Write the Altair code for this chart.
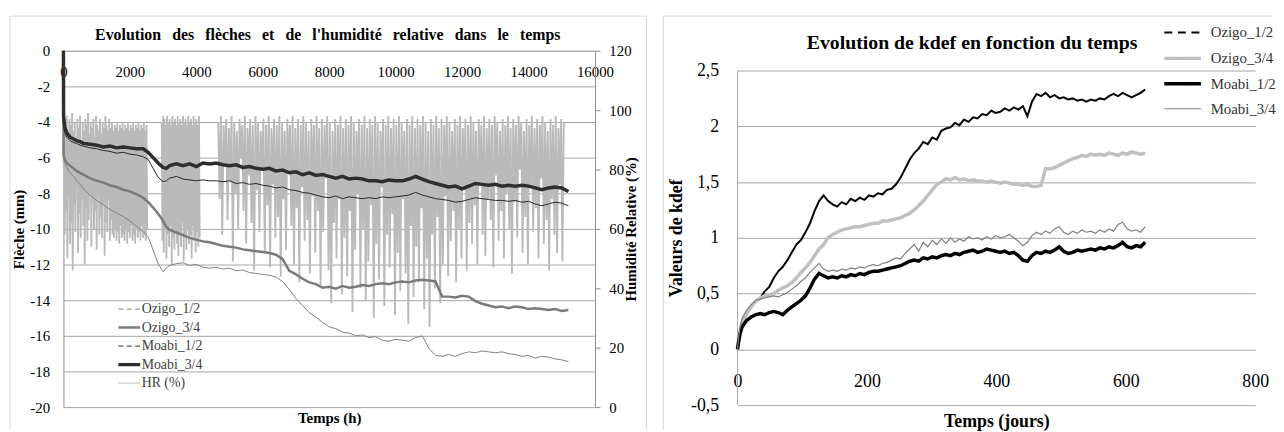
import altair as alt
import pandas as pd

SERIF = "Liberation Serif"
GRID = "#a6a6a6"
FRAME = "#d4d4d4"
GAP = "\u2002\u2009"  # wide word gap used in the left title

# ---------------- Left chart: deflection (mm) and RH (%) vs time (h) ----------------
SERIES_L = ["Ozigo_1/2", "Ozigo_3/4", "Moabi_1/2", "Moabi_3/4", "HR (%)"]
COLORS_L = ["#808080", "#7a7a7a", "#262626", "#2e2e2e", "#bababa"]
WIDTHS_L = [1, 2.5, 1, 3.5, 1]
DASHES_L = [[5, 3.5], [1, 0], [5, 3.5], [1, 0], [1, 0]]
HR_LINE_WIDTH = 1.9

T_L = [0, 5, 40, 100, 200, 300, 400, 500, 600, 800, 1000, 1200, 1400, 1600, 1800, 2000,
       2200, 2400, 2550, 2700, 2850, 3000, 3100,
       3200, 3400, 3600, 3800, 4000, 4200, 4400, 4600, 4800, 5000, 5200, 5400, 5600, 5800,
       6000, 6200, 6400, 6600, 6800, 7000, 7200, 7400, 7600, 7800, 8000, 8200, 8400, 8600,
       8800, 9000, 9200, 9400, 9600, 9800, 10000, 10200, 10400, 10600, 10800, 11000, 11200,
       11400, 11600, 11800, 12000, 12200, 12400, 12600, 12800, 13000, 13200, 13400, 13600,
       13800, 14000, 14200, 14400, 14600, 14800, 15000, 15200]

O12_L = [0, -6.0, -6.3, -6.55, -6.85, -7.05, -7.3, -7.5, -7.75, -8.1, -8.4, -8.65, -8.9, -9.1,
         -9.3, -9.55, -9.85, -10.15, -10.45, -11.2, -11.95, -12.4, -12.2,
         -12.05, -11.95, -11.9, -12.05, -12.0, -12.15, -12.2, -12.15, -12.25, -12.2,
         -12.35, -12.3, -12.45, -12.5, -12.55, -12.6, -12.7, -12.95, -13.4, -13.9,
         -14.3, -14.7, -14.95, -15.25, -15.5, -15.6, -15.8, -15.85, -16.0, -15.95,
         -16.1, -16.05, -16.25, -16.3, -16.2, -16.25, -16.3, -16.1, -16.0, -16.7,
         -17.1, -17.15, -17.05, -17.15, -17.0, -16.9, -16.95, -16.85, -16.9, -16.95,
         -16.9, -17.0, -17.05, -17.15, -17.1, -17.25, -17.15, -17.2, -17.3, -17.35, -17.45]
O34_L = [0, -5.85, -6.1, -6.3, -6.45, -6.6, -6.75, -6.85, -6.95, -7.15, -7.3, -7.4, -7.55, -7.65,
         -7.8, -7.9, -8.05, -8.25, -8.5, -8.8, -9.15, -9.55, -9.9,
         -10.05, -10.2, -10.35, -10.5, -10.6, -10.7, -10.75, -10.85, -10.95, -11.0,
         -11.05, -11.15, -11.2, -11.25, -11.3, -11.35, -11.45, -11.7, -12.35, -12.55,
         -12.8, -13.0, -13.1, -13.3, -13.25, -13.35, -13.2, -13.3, -13.25, -13.15,
         -13.2, -13.1, -13.05, -13.1, -13.0, -12.95, -13.0, -12.9, -12.85, -12.9,
         -12.95, -13.8, -13.8, -13.85, -13.75, -13.8, -14.05, -14.2, -14.3, -14.4,
         -14.35, -14.45, -14.35, -14.4, -14.5, -14.45, -14.5, -14.55, -14.5, -14.6, -14.55]
M12_L = [0, -4.2, -4.6, -4.85, -5.05, -5.15, -5.2, -5.3, -5.35, -5.45, -5.5, -5.6, -5.65, -5.75,
         -5.7, -5.8, -5.85, -5.95, -6.1, -6.6, -7.1, -7.35, -7.3,
         -7.15, -7.05, -7.2, -7.25, -7.3, -7.25, -7.3, -7.3, -7.35, -7.3,
         -7.45, -7.4, -7.5, -7.45, -7.55, -7.6, -7.7, -7.65, -7.8, -7.85,
         -7.95, -8.0, -8.1, -8.2, -8.25, -8.15, -8.3, -8.2, -8.25, -8.3,
         -8.25, -8.3, -8.2, -8.25, -8.2, -8.15, -8.1, -7.95, -8.1, -8.2,
         -8.3, -8.35, -8.4, -8.5, -8.45, -8.35, -8.25, -8.3, -8.35, -8.4,
         -8.4, -8.45, -8.4, -8.5, -8.45, -8.6, -8.7, -8.6, -8.5, -8.55, -8.7]
M34_L = [0, -3.7, -4.3, -4.6, -4.85, -4.95, -5.05, -5.1, -5.2, -5.25, -5.3, -5.4, -5.35, -5.45,
         -5.4, -5.45, -5.5, -5.5, -5.7, -6.0, -6.3, -6.55, -6.6,
         -6.45, -6.35, -6.45, -6.35, -6.5, -6.3, -6.35, -6.3, -6.4, -6.45,
         -6.4, -6.55, -6.5, -6.6, -6.65, -6.6, -6.75, -6.7, -6.85, -6.8,
         -6.95, -6.85, -7.0, -6.95, -7.05, -7.15, -7.05, -7.2, -7.15, -7.2,
         -7.3, -7.3, -7.35, -7.25, -7.3, -7.3, -7.2, -7.05, -7.2, -7.35,
         -7.45, -7.55, -7.65, -7.6, -7.75, -7.6, -7.45, -7.5, -7.55, -7.5,
         -7.6, -7.55, -7.6, -7.55, -7.6, -7.7, -7.8, -7.7, -7.65, -7.7, -7.9]

# Relative humidity record, three logged segments (start hour, step in hours, values)
HR_A_START, HR_A_STEP = 0, 20
HR_A = [82, 96, 58, 94, 66, 98, 50, 92, 71, 97, 55, 95, 62, 99, 46, 93, 68, 96, 59, 91,
        74, 97, 52, 94, 65, 98, 57, 90, 70, 96, 61, 93, 48, 97, 67, 95, 56, 99, 63, 92,
        72, 96, 54, 94, 69, 97, 60, 91, 66, 98, 53, 95, 71, 93, 58, 97, 64, 92, 57, 96,
        68, 94, 51, 98, 62, 95, 59, 93, 70, 97, 56, 94, 63, 96, 58, 93, 57, 95, 60, 94,
        56, 96, 59, 93, 55, 95, 61, 94, 57, 96, 58, 93, 56, 95, 60, 94, 55, 96, 59, 93,
        57, 95, 61, 94, 56, 96, 58, 93, 55, 95, 60, 94, 57, 96, 59, 93, 56, 95, 61, 94,
        57, 96, 58, 93, 56, 95, 60]
HR_B_START, HR_B_STEP = 2960, 20
HR_B = [96, 56, 98, 52, 97, 60, 95, 50, 98, 58, 96, 54, 97, 61, 95, 48, 98, 57, 96, 53,
        97, 60, 95, 55, 98, 51, 96, 59, 97, 54, 95, 62, 98, 49, 96, 57, 97, 53, 95, 60,
        98, 55, 96, 58, 97, 50, 95, 61, 98, 56, 96, 52, 97, 59, 95, 54, 98, 57]
HR_C_START, HR_C_STEP = 4660, 40
HR_C = [96, 70, 98, 58, 95, 82, 97, 63, 94, 76, 98, 49, 96, 72, 93, 60, 97, 84, 95, 66,
        98, 55, 94, 78, 97, 62, 95, 46, 98, 73, 96, 59, 93, 80, 97, 52, 95, 68, 98, 47,
        94, 75, 97, 57, 95, 64, 98, 44, 96, 70, 93, 53, 97, 79, 95, 61, 98, 48, 94, 67,
        97, 42, 95, 74, 98, 56, 96, 63, 93, 45, 97, 71, 95, 52, 98, 66, 94, 41, 97, 59,
        95, 77, 98, 46, 96, 35, 93, 62, 97, 50, 95, 70, 98, 38, 94, 57, 97, 44, 95, 66,
        98, 32, 96, 53, 93, 72, 97, 40, 95, 60, 98, 36, 94, 49, 97, 68, 95, 30, 98, 55,
        96, 43, 93, 74, 97, 34, 95, 58, 98, 47, 94, 65, 97, 31, 95, 52, 98, 39, 96, 70,
        93, 45, 97, 28, 95, 61, 98, 37, 94, 54, 97, 42, 95, 67, 98, 33, 96, 50, 93, 27,
        97, 58, 95, 40, 98, 64, 94, 35, 97, 48, 95, 71, 98, 44, 96, 56, 93, 66, 97, 42,
        95, 60, 98, 50, 94, 73, 97, 46, 95, 62, 98, 55, 96, 68, 93, 48, 97, 75, 95, 58,
        98, 51, 94, 70, 97, 63, 95, 47, 98, 78, 96, 56, 93, 66, 97, 50, 95, 72, 98, 60,
        94, 45, 97, 69, 95, 57, 98, 80, 96, 52, 93, 64, 97, 48, 95, 74, 98, 59, 94, 67,
        97, 50, 95, 77, 98, 55, 96, 63, 93, 46, 97, 70, 95, 58, 98, 52, 94, 75, 97, 49,
        95, 96]

TICKS_X_L = [0, 2000, 4000, 6000, 8000, 10000, 12000, 14000, 16000]
TICKS_Y_L = [-20, -18, -16, -14, -12, -10, -8, -6, -4, -2, 0]
TICKS_HR = [0, 20, 40, 60, 80, 100, 120]

TITLE_L = GAP.join(["Evolution", "des", "flèches", "et", "de", "l'humidité", "relative",
                    "dans", "le", "temps"])

# ---------------- Right chart: kdef vs time (days) ----------------
SERIES_R = ["Ozigo_1/2", "Ozigo_3/4", "Moabi_1/2", "Moabi_3/4"]
COLORS_R = ["#000000", "#c0c0c0", "#000000", "#7f7f7f"]
WIDTHS_R = [2, 3.5, 3.5, 1.2]
DASHES_R = [[8, 5.7], [1, 0], [1, 0], [1, 0]]

D_R = [0, 2, 4, 7, 14, 21, 28, 35, 42, 49, 56, 63, 70, 77, 84, 91, 98, 105, 112, 119, 126,
       133, 140, 147, 154, 161, 168, 175, 182, 189, 196, 203, 210, 217, 224, 231, 238, 245,
       252, 259, 266, 273, 280, 287, 294, 301, 308, 315, 322, 329, 336, 343, 350, 357, 364,
       371, 378, 385, 392, 399, 406, 413, 420, 427, 434, 441, 448, 455, 462, 469, 476, 483,
       490, 497, 504, 511, 518, 525, 532, 539, 546, 553, 560, 567, 574, 581, 588, 595, 602,
       609, 616, 623, 630]

O12_R = [0, 0.10, 0.16, 0.22, 0.33, 0.39, 0.43, 0.46, 0.52, 0.56, 0.64, 0.70, 0.74, 0.80,
         0.87, 0.94, 0.98, 1.05, 1.13, 1.24, 1.33, 1.38, 1.33, 1.30, 1.28, 1.32, 1.30, 1.35,
         1.33, 1.36, 1.34, 1.38, 1.37, 1.40, 1.39, 1.43, 1.44, 1.48, 1.54, 1.62, 1.70, 1.76,
         1.80, 1.86, 1.84, 1.90, 1.88, 1.96, 1.98, 1.99, 2.03, 2.01, 2.06, 2.04, 2.08, 2.07,
         2.11, 2.10, 2.14, 2.12, 2.13, 2.16, 2.14, 2.17, 2.15, 2.18, 2.09, 2.22, 2.29, 2.27,
         2.30, 2.26, 2.28, 2.25, 2.26, 2.24, 2.25, 2.23, 2.24, 2.22, 2.24, 2.23, 2.25, 2.24,
         2.27, 2.29, 2.27, 2.30, 2.28, 2.26, 2.28, 2.30, 2.33]
O34_R = [0, 0.10, 0.17, 0.24, 0.32, 0.38, 0.43, 0.46, 0.48, 0.49, 0.50, 0.53, 0.55, 0.57,
         0.60, 0.64, 0.69, 0.73, 0.78, 0.84, 0.90, 0.94, 1.00, 1.03, 1.05, 1.07, 1.08, 1.09,
         1.10, 1.10, 1.11, 1.12, 1.13, 1.13, 1.15, 1.15, 1.16, 1.17, 1.18, 1.20, 1.22, 1.25,
         1.29, 1.33, 1.38, 1.43, 1.48, 1.50, 1.53, 1.52, 1.54, 1.52, 1.53, 1.51, 1.52, 1.51,
         1.51, 1.50, 1.51, 1.50, 1.49, 1.50, 1.49, 1.48, 1.48, 1.47, 1.48, 1.46, 1.46, 1.47,
         1.62, 1.62, 1.63, 1.65, 1.67, 1.69, 1.71, 1.72, 1.74, 1.73, 1.75, 1.74, 1.75, 1.74,
         1.76, 1.75, 1.74, 1.76, 1.75, 1.77, 1.76, 1.75, 1.76]
M12_R = [0, 0.08, 0.14, 0.20, 0.26, 0.29, 0.31, 0.32, 0.31, 0.33, 0.34, 0.33, 0.31, 0.35,
         0.38, 0.41, 0.44, 0.48, 0.55, 0.63, 0.68, 0.66, 0.64, 0.65, 0.64, 0.66, 0.65, 0.67,
         0.66, 0.68, 0.67, 0.69, 0.70, 0.70, 0.71, 0.72, 0.73, 0.74, 0.75, 0.77, 0.79, 0.80,
         0.79, 0.82, 0.81, 0.83, 0.82, 0.84, 0.85, 0.84, 0.86, 0.85, 0.87, 0.88, 0.89, 0.87,
         0.88, 0.90, 0.89, 0.88, 0.87, 0.88, 0.86, 0.87, 0.84, 0.80, 0.79, 0.84, 0.87, 0.86,
         0.88, 0.87, 0.89, 0.92, 0.88, 0.86, 0.87, 0.89, 0.88, 0.89, 0.90, 0.89, 0.91, 0.90,
         0.92, 0.91, 0.93, 0.96, 0.92, 0.91, 0.93, 0.92, 0.96]
M34_R = [0, 0.12, 0.20, 0.28, 0.35, 0.40, 0.44, 0.45, 0.46, 0.47, 0.48, 0.47, 0.49, 0.51,
         0.54, 0.57, 0.61, 0.64, 0.69, 0.73, 0.77, 0.72, 0.70, 0.71, 0.70, 0.72, 0.71, 0.73,
         0.72, 0.74, 0.73, 0.75, 0.76, 0.75, 0.77, 0.78, 0.80, 0.82, 0.81, 0.86, 0.90, 0.94,
         0.88, 0.96, 0.92, 0.98, 0.94, 0.99, 0.95, 1.00, 0.96, 0.99, 0.97, 1.01, 0.99, 1.00,
         0.98, 1.01, 0.99, 1.02, 1.00, 1.01, 1.03, 1.00, 0.97, 0.93, 0.96, 1.02, 1.05, 1.03,
         1.06, 1.04, 1.08, 1.10, 1.05, 1.03, 1.06, 1.04, 1.07, 1.05, 1.06, 1.04, 1.07, 1.05,
         1.08, 1.06, 1.12, 1.14, 1.08, 1.06, 1.07, 1.05, 1.10]

TICKS_X_R = [0, 200, 400, 600, 800]
TICKS_Y_R = [-0.5, 0, 0.5, 1, 1.5, 2, 2.5]


# ---------------- data tables ----------------
def long_table(times, named, xname, yname):
    rows = []
    for name, vals in named:
        assert len(vals) == len(times), (name, len(vals), len(times))
        rows += [{xname: t, yname: v, "s": name} for t, v in zip(times, vals)]
    return pd.DataFrame(rows)


df_left = long_table(T_L, [("Ozigo_1/2", O12_L), ("Ozigo_3/4", O34_L),
                           ("Moabi_1/2", M12_L), ("Moabi_3/4", M34_L)], "t", "v")
hr_rows = []
for seg, (start, step, vals) in enumerate([(HR_A_START, HR_A_STEP, HR_A),
                                           (HR_B_START, HR_B_STEP, HR_B),
                                           (HR_C_START, HR_C_STEP, HR_C)]):
    hr_rows += [{"t": start + i * step, "hr": v, "s": "HR (%)", "seg": seg}
                for i, v in enumerate(vals)]
df_hr = pd.DataFrame(hr_rows)
df_leg_l = pd.DataFrame({"t": [0] * len(SERIES_L), "v": [-10] * len(SERIES_L), "s": SERIES_L})

df_right = long_table(D_R, [("Ozigo_1/2", O12_R), ("Ozigo_3/4", O34_R),
                            ("Moabi_1/2", M12_R), ("Moabi_3/4", M34_R)], "d", "k")
df_leg_r = pd.DataFrame({"d": [0] * len(SERIES_R), "k": [0] * len(SERIES_R), "s": SERIES_R})
df_axis_r = pd.DataFrame({"d": [0], "k0": [TICKS_Y_R[0]], "k1": [TICKS_Y_R[-1]]})
ONE = pd.DataFrame({"k": [0]})


def frame_lines(left_x, right_x, top_y, bottom_y, with_right):
    """Light-grey chart-area border (top, left and optionally right edges)."""
    parts = [
        alt.Chart(ONE).mark_rule(color=FRAME, strokeWidth=1).encode(
            x=alt.value(left_x), x2=alt.value(right_x), y=alt.value(top_y)),
        alt.Chart(ONE).mark_rule(color=FRAME, strokeWidth=1).encode(
            x=alt.value(left_x), y=alt.value(top_y), y2=alt.value(bottom_y)),
    ]
    if with_right:
        parts.append(alt.Chart(ONE).mark_rule(color=FRAME, strokeWidth=1).encode(
            x=alt.value(right_x), y=alt.value(top_y), y2=alt.value(bottom_y)))
    return parts


# ---------------- left chart ----------------
AX_XL = alt.Axis(values=TICKS_X_L, orient="bottom", offset=-360, grid=False, ticks=False,
                 tickSize=0, domain=True, domainColor=GRID,
                 labelExpr="format(datum.value, 'd')", labelFont=SERIF, labelFontSize=15,
                 labelColor="#000", labelPadding=14, labelFlush=False, labelOverlap=False,
                 title="Temps (h)", titleFont=SERIF, titleFontSize=15, titleFontWeight="bold",
                 titleColor="#000", titleY=371, titleBaseline="middle")
AX_YL = alt.Axis(values=TICKS_Y_L, orient="left", grid=True, gridColor=GRID, ticks=False,
                 tickSize=0, domain=True, domainColor="#8c8c8c",
                 labelExpr="(datum.value < 0 ? '-' : '') + format(abs(datum.value), 'd')",
                 labelFont=SERIF, labelFontSize=15, labelColor="#000", labelPadding=14,
                 title="Flèche (mm)", titleFont=SERIF, titleFontSize=15, titleFontWeight="bold",
                 titleColor="#000", titleX=-45, titleY=180, titleAngle=270,
                 titleAlign="center", titleBaseline="middle")
AX_HR = alt.Axis(values=TICKS_HR, orient="right", grid=False, ticks=True, tickSize=5,
                 tickColor="#8c8c8c", domain=True, domainColor="#8c8c8c",
                 labelExpr="format(datum.value, 'd')", labelFont=SERIF, labelFontSize=15,
                 labelColor="#000", labelPadding=9,
                 title="Humidité Relative (%)", titleFont=SERIF, titleFontSize=15,
                 titleFontWeight="bold", titleColor="#000", titleX=36, titleY=180,
                 titleAngle=270, titleAlign="center", titleBaseline="middle")

LEG_L = alt.Legend(title=None, orient="none", legendX=65, legendY=254, padding=0,
                   symbolType="M-4.5,0L1.5,0", symbolSize=54, labelFont=SERIF,
                   labelFontSize=14, labelColor="#404040", labelOffset=0, rowPadding=4.7)

X_L = alt.X("t:Q", scale=alt.Scale(domain=[0, 16000], nice=False, zero=False), axis=AX_XL)
Y_F = alt.Y("v:Q", scale=alt.Scale(domain=[-20, 0], nice=False, zero=False), axis=AX_YL)
Y_H = alt.Y("hr:Q", scale=alt.Scale(domain=[0, 120], nice=False, zero=False), axis=AX_HR)
C_L = alt.Color("s:N", scale=alt.Scale(domain=SERIES_L, range=COLORS_L), legend=LEG_L)
W_L = alt.StrokeWidth("s:N", scale=alt.Scale(type="ordinal", domain=SERIES_L, range=WIDTHS_L),
                      legend=LEG_L)
D_L = alt.StrokeDash("s:N", scale=alt.Scale(domain=SERIES_L, range=DASHES_L), legend=LEG_L)

title_l = alt.Chart(ONE).mark_text(
    text=TITLE_L, font=SERIF, fontSize=16, fontWeight="bold", color="#000",
    align="center", baseline="middle"
).encode(x=alt.value(267), y=alt.value(-16))
hr_layer = alt.Chart(df_hr).mark_line().encode(x=X_L, y=Y_H, color=C_L,
                                                strokeWidth=alt.value(HR_LINE_WIDTH),
                                                detail="seg:N")
main_l = alt.Chart(df_left).mark_line().encode(x=X_L, y=Y_F, color=C_L, strokeWidth=W_L)
leg_l = alt.Chart(df_leg_l).mark_line().encode(x=X_L, y=Y_F, color=C_L, strokeWidth=W_L,
                                                strokeDash=D_L)

left = alt.layer(*frame_lines(-54, 589, -35, 383, True), title_l, hr_layer,
                 alt.layer(main_l, leg_l)).resolve_scale(
    y="independent").properties(width=537, height=360)

# ---------------- right chart ----------------
AX_XR = alt.Axis(values=TICKS_X_R, orient="bottom", offset=-56, grid=False, ticks=False,
                 tickSize=0, domain=False, labelExpr="format(datum.value, 'd')",
                 labelFont=SERIF, labelFontSize=18, labelColor="#000", labelPadding=23,
                 labelFlush=False, labelOverlap=False,
                 title="Temps (jours)", titleFont=SERIF, titleFontSize=18,
                 titleFontWeight="bold", titleColor="#000", titleY=73, titleBaseline="middle")
AX_YR = alt.Axis(values=TICKS_Y_R, orient="left", grid=True, gridColor=GRID, ticks=False,
                 tickSize=0, domain=False,
                 labelExpr="(datum.value < 0 ? '-' : '') + replace(format(abs(datum.value), '~g'), '.', ',')",
                 labelFont=SERIF, labelFontSize=18, labelColor="#000", labelPadding=19,
                 title="Valeurs de kdef", titleFont=SERIF, titleFontSize=18,
                 titleFontWeight="bold", titleColor="#000", titleX=-62, titleY=189,
                 titleAngle=270, titleAlign="center", titleBaseline="middle")
LEG_R = alt.Legend(title=None, orient="none", legendX=454, legendY=-26, padding=0,
                   symbolType="M-5,0L1,0", symbolSize=152, labelFont=SERIF, labelFontSize=15,
                   labelColor="#333333", labelOffset=8, rowPadding=9.7)

SC_XR = alt.Scale(domain=[0, 800], nice=False, zero=False)
SC_YR = alt.Scale(domain=[-0.5, 2.6775], nice=False, zero=False)
X_R = alt.X("d:Q", scale=SC_XR, axis=AX_XR)
Y_R = alt.Y("k:Q", scale=SC_YR, axis=AX_YR)
C_R = alt.Color("s:N", scale=alt.Scale(domain=SERIES_R, range=COLORS_R), legend=LEG_R)
W_R = alt.StrokeWidth("s:N", scale=alt.Scale(type="ordinal", domain=SERIES_R, range=WIDTHS_R),
                      legend=LEG_R)
DS_R = alt.StrokeDash("s:N", scale=alt.Scale(domain=SERIES_R, range=DASHES_R), legend=LEG_R)

title_r = alt.Chart(ONE).mark_text(
    text="Evolution de kdef en fonction du temps", font=SERIF, fontSize=20,
    fontWeight="bold", color="#000", align="center", baseline="middle"
).encode(x=alt.value(237), y=alt.value(-8))
axis_r = alt.Chart(df_axis_r).mark_rule(color=GRID, strokeWidth=1).encode(
    x=X_R, y=alt.Y("k0:Q", scale=SC_YR, axis=AX_YR), y2="k1:Q")
main_r = alt.Chart(df_right).mark_line().encode(x=X_R, y=Y_R, color=C_R, strokeWidth=W_R)
leg_r = alt.Chart(df_leg_r).mark_line().encode(x=X_R, y=Y_R, color=C_R, strokeWidth=W_R,
                                                strokeDash=DS_R)

right = alt.layer(*frame_lines(-75, 540, -35, 383, False), title_r, axis_r, main_r,
                  leg_r).properties(width=523, height=358)

chart = alt.hconcat(left, right, spacing=15).resolve_scale(
    color="independent", strokeWidth="independent", strokeDash="independent"
).properties(
    padding={"left": 1, "top": 5, "right": 0, "bottom": 0}, background="white"
).configure_view(strokeWidth=0)

chart.save("out.html", embed_options={"renderer": "svg", "actions": False})
